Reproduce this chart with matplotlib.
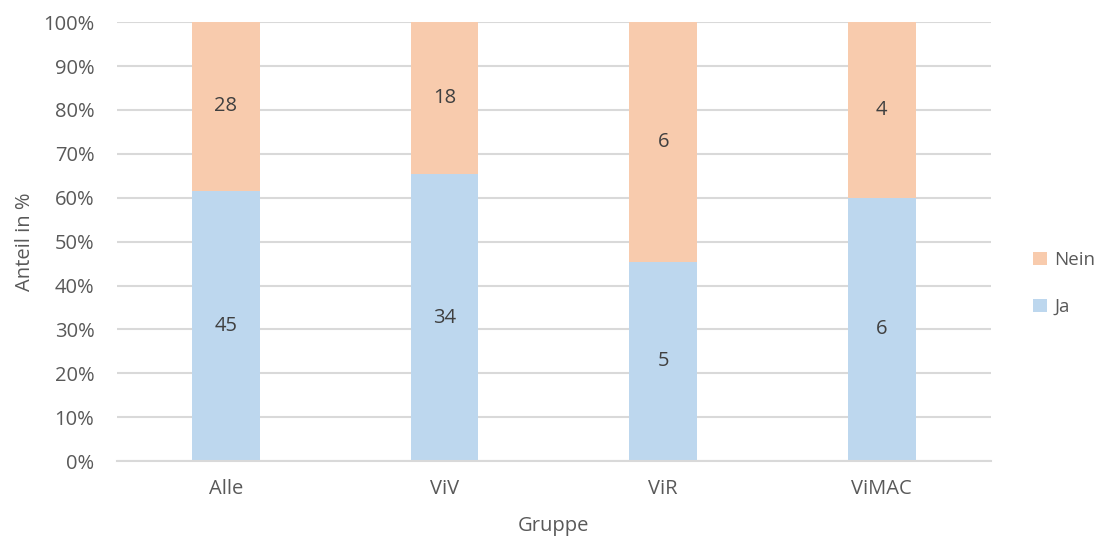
import matplotlib.pyplot as plt
import numpy as np
from matplotlib.patches import Patch

plt.rcParams['font.family'] = ['Open Sans', 'DejaVu Sans']

groups = ["Alle", "ViV", "ViR", "ViMAC"]
ja = [45, 34, 5, 6]
nein = [28, 18, 6, 4]
y_ticks = [0, 10, 20, 30, 40, 50, 60, 70, 80, 90, 100]

col_ja = "#BDD7EE"
col_nein = "#F8CBAD"
txt = "#595959"
grid_col = "#D9D9D9"
fs = 14.5

ja_arr = np.array(ja, dtype=float)
nein_arr = np.array(nein, dtype=float)
total = ja_arr + nein_arr
ja_pct = ja_arr / total * 100
nein_pct = nein_arr / total * 100

fig = plt.figure(figsize=(11, 5.4), dpi=100)
ax = fig.add_axes([0.106, 0.146, 0.795, 0.813])

x = np.arange(len(groups))
w = 0.31
ax.bar(x, ja_pct, width=w, color=col_ja, zorder=2)
ax.bar(x, nein_pct, width=w, bottom=ja_pct, color=col_nein, zorder=2)

for xi, p, v in zip(x, ja_pct, ja):
    ax.text(xi, p / 2, str(v), ha="center", va="center", fontsize=fs, color="#404040")
for xi, b, p, v in zip(x, ja_pct, nein_pct, nein):
    ax.text(xi, b + p / 2, str(v), ha="center", va="center", fontsize=fs, color="#404040")

ax.set_xlim(-0.5, len(groups) - 0.5)
ax.set_ylim(0, 100)
ax.set_yticks(y_ticks)
ax.set_yticklabels([f"{t}%" for t in y_ticks])
ax.set_xticks(x)
ax.set_xticklabels(groups)
ax.tick_params(axis="both", length=0, labelsize=fs, colors=txt)
ax.tick_params(axis="y", pad=16)
ax.tick_params(axis="x", pad=13)

ax.grid(axis="y", color=grid_col, linewidth=1.5, zorder=0)
for s in ["top", "right", "left"]:
    ax.spines[s].set_visible(False)
ax.spines["bottom"].set_color(grid_col)
ax.spines["bottom"].set_linewidth(1.5)
ax.spines["bottom"].set_zorder(3)

ax.set_xlabel("Gruppe", fontsize=fs, color=txt, labelpad=12)
ax.set_ylabel("Anteil in %", fontsize=fs, color=txt, labelpad=6)

handles = [Patch(facecolor=col_nein, edgecolor="none", label="Nein"),
           Patch(facecolor=col_ja, edgecolor="none", label="Ja")]
leg = fig.legend(handles=handles, loc="center left", bbox_to_anchor=(0.927, 0.475),
                 frameon=False, fontsize=13.5, handlelength=0.75, handleheight=0.75,
                 labelspacing=1.55, handletextpad=0.4, borderaxespad=0.3)
for t in leg.get_texts():
    t.set_color(txt)

fig.savefig("out.png", dpi=100, facecolor="white")
